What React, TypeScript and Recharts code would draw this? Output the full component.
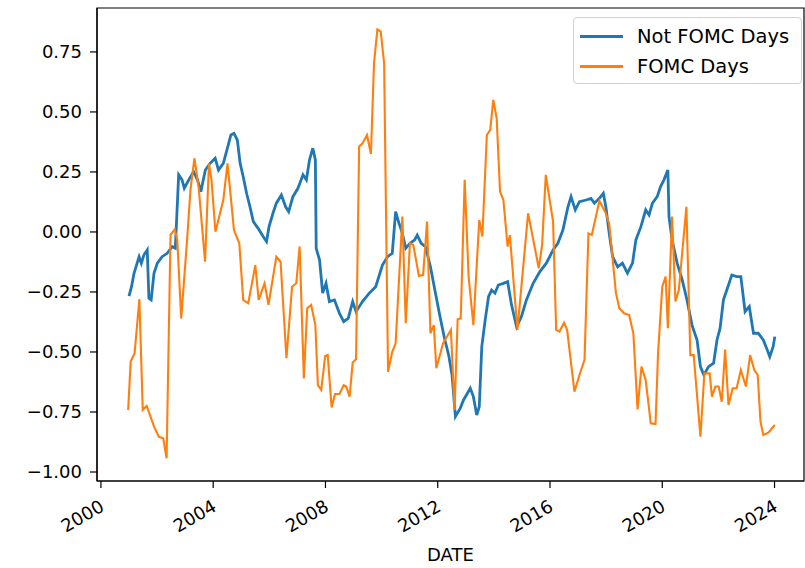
import React from 'react';
import { LineChart, Line, XAxis, YAxis, ReferenceArea, Label } from 'recharts';

const blueDates = [2001.00,2001.09,2001.18,2001.36,2001.44,2001.53,2001.65,2001.71,2001.79,2001.89,2002.01,2002.18,2002.36,2002.54,2002.65,2002.77,2002.89,2002.97,2003.13,2003.30,2003.44,2003.56,2003.72,2003.89,2004.07,2004.19,2004.36,2004.49,2004.63,2004.74,2004.86,2004.96,2005.07,2005.19,2005.31,2005.43,2005.60,2005.78,2005.90,2005.99,2006.13,2006.25,2006.43,2006.58,2006.69,2006.84,2007.02,2007.20,2007.32,2007.43,2007.55,2007.64,2007.67,2007.79,2007.90,2008.02,2008.14,2008.32,2008.50,2008.65,2008.81,2008.97,2009.09,2009.32,2009.56,2009.79,2010.03,2010.21,2010.38,2010.50,2010.62,2010.74,2010.86,2011.01,2011.18,2011.27,2011.41,2011.56,2011.74,2011.92,2012.07,2012.24,2012.39,2012.51,2012.63,2012.80,2012.92,2013.16,2013.27,2013.39,2013.48,2013.57,2013.69,2013.81,2013.92,2014.04,2014.16,2014.34,2014.49,2014.63,2014.81,2014.98,2015.16,2015.40,2015.64,2015.87,2016.11,2016.28,2016.46,2016.64,2016.75,2016.90,2017.05,2017.29,2017.46,2017.58,2017.76,2017.90,2017.99,2018.11,2018.23,2018.41,2018.58,2018.76,2018.94,2019.06,2019.24,2019.41,2019.53,2019.65,2019.82,2019.94,2020.06,2020.20,2020.24,2020.35,2020.53,2020.71,2020.88,2021.06,2021.24,2021.36,2021.48,2021.65,2021.83,2021.95,2022.06,2022.18,2022.30,2022.48,2022.65,2022.80,2022.95,2023.10,2023.25,2023.42,2023.60,2023.72,2023.83,2023.95,2024.01];
const blueValues = [-0.267,-0.228,-0.172,-0.103,-0.13,-0.096,-0.075,-0.276,-0.283,-0.172,-0.13,-0.103,-0.089,-0.061,-0.068,0.238,0.217,0.182,0.217,0.251,0.217,0.168,0.258,0.286,0.307,0.258,0.286,0.342,0.404,0.411,0.383,0.286,0.23,0.161,0.105,0.043,0.015,-0.019,-0.04,0.022,0.078,0.12,0.154,0.105,0.085,0.147,0.182,0.238,0.217,0.3,0.349,0.3,-0.068,-0.117,-0.255,-0.214,-0.29,-0.283,-0.339,-0.374,-0.36,-0.29,-0.332,-0.29,-0.255,-0.228,-0.138,-0.103,-0.089,0.085,0.036,-0.006,-0.068,-0.047,-0.033,-0.013,-0.047,-0.061,-0.145,-0.255,-0.346,-0.443,-0.513,-0.596,-0.769,-0.735,-0.7,-0.651,-0.686,-0.763,-0.728,-0.478,-0.367,-0.27,-0.242,-0.255,-0.221,-0.214,-0.207,-0.304,-0.395,-0.353,-0.283,-0.214,-0.165,-0.13,-0.075,-0.047,0.008,0.105,0.147,0.092,0.126,0.133,0.14,0.12,0.14,0.161,0.105,-0.006,-0.103,-0.145,-0.13,-0.172,-0.13,-0.033,0.022,0.092,0.071,0.12,0.147,0.189,0.217,0.258,0.064,-0.033,-0.13,-0.2,-0.283,-0.388,-0.45,-0.561,-0.596,-0.561,-0.547,-0.45,-0.401,-0.283,-0.242,-0.179,-0.186,-0.186,-0.332,-0.311,-0.422,-0.422,-0.45,-0.485,-0.52,-0.478,-0.436];

const orangeDates = [2000.97,2001.06,2001.20,2001.37,2001.49,2001.63,2001.89,2002.06,2002.22,2002.34,2002.48,2002.63,2002.72,2002.86,2003.07,2003.19,2003.33,2003.48,2003.71,2003.85,2003.94,2004.08,2004.36,2004.51,2004.74,2004.93,2005.07,2005.25,2005.50,2005.62,2005.83,2005.97,2006.25,2006.40,2006.61,2006.81,2006.96,2007.08,2007.23,2007.35,2007.49,2007.64,2007.73,2007.85,2007.99,2008.08,2008.22,2008.34,2008.50,2008.65,2008.74,2008.86,2008.97,2009.09,2009.20,2009.32,2009.48,2009.62,2009.73,2009.85,2009.97,2010.09,2010.23,2010.38,2010.50,2010.74,2010.86,2011.01,2011.13,2011.33,2011.48,2011.62,2011.74,2011.86,2011.95,2012.19,2012.47,2012.60,2012.71,2012.82,2012.96,2013.10,2013.27,2013.48,2013.59,2013.75,2013.87,2013.98,2014.10,2014.22,2014.34,2014.49,2014.57,2014.84,2015.22,2015.60,2015.72,2015.85,2016.11,2016.22,2016.34,2016.50,2016.61,2016.87,2017.05,2017.23,2017.37,2017.49,2017.76,2017.99,2018.11,2018.35,2018.47,2018.64,2018.82,2018.97,2019.12,2019.26,2019.41,2019.59,2019.76,2019.85,2020.00,2020.12,2020.20,2020.35,2020.47,2020.59,2020.86,2021.00,2021.12,2021.36,2021.50,2021.69,2021.77,2021.89,2022.01,2022.12,2022.24,2022.36,2022.51,2022.65,2022.80,2022.98,2023.13,2023.28,2023.40,2023.50,2023.60,2023.78,2024.01];
const orangeValues = [-0.742,-0.54,-0.505,-0.28,-0.742,-0.725,-0.81,-0.853,-0.86,-0.943,-0.0125,0.011,-0.033,-0.36,-0.033,0.175,0.307,0.189,-0.124,0.286,0.217,0.001,0.133,0.286,0.008,-0.047,-0.283,-0.297,-0.138,-0.283,-0.214,-0.304,-0.103,-0.124,-0.526,-0.228,-0.214,-0.061,-0.61,-0.318,-0.304,-0.388,-0.638,-0.658,-0.517,-0.513,-0.731,-0.675,-0.675,-0.638,-0.644,-0.686,-0.544,-0.53,0.356,0.369,0.404,0.325,0.703,0.844,0.835,0.703,-0.582,-0.499,-0.464,0.064,-0.38,-0.047,-0.054,-0.183,-0.179,0.043,-0.422,-0.388,-0.568,-0.464,-0.408,-0.742,-0.364,-0.36,0.217,-0.186,-0.388,0.05,-0.019,0.404,0.425,0.55,0.474,0.168,0.133,-0.061,-0.013,-0.408,0.078,-0.151,-0.054,0.238,0.043,-0.408,-0.415,-0.378,-0.408,-0.665,-0.596,-0.533,-0.006,-0.013,0.13,0.078,0.033,-0.255,-0.318,-0.339,-0.346,-0.422,-0.739,-0.561,-0.617,-0.797,-0.8,-0.506,-0.228,-0.186,-0.401,0.064,-0.29,-0.242,0.105,-0.513,-0.513,-0.853,-0.589,-0.589,-0.686,-0.644,-0.644,-0.707,-0.49,-0.721,-0.651,-0.651,-0.575,-0.644,-0.513,-0.575,-0.596,-0.79,-0.846,-0.836,-0.804];

const xTicks = [2000, 2004, 2008, 2012, 2016, 2020, 2024];
const yTicks = [-1.0, -0.75, -0.5, -0.25, 0, 0.25, 0.5, 0.75];
const seriesNames = ['Not FOMC Days', 'FOMC Days'];
const seriesColors = ['#1f77b4', '#ff7f0e'];

const xDomain = [1999.86, 2025.05];
const yDomain = [-1.0375, 0.933];

const blueData = blueDates.map((d, i) => ({ date: d, value: blueValues[i] }));
const orangeData = orangeDates.map((d, i) => ({ date: d, value: orangeValues[i] }));

const FONT = 'DejaVu Sans';

const LegendBox = () => (
  <div
    style={{
      position: 'absolute',
      left: 573,
      top: 17,
      width: 229,
      height: 67,
      border: '1px solid #d0d0d0',
      borderRadius: 4,
      background: 'rgba(255,255,255,0.8)',
      fontFamily: FONT,
      fontSize: 19.5,
      color: '#000',
      boxSizing: 'border-box',
      paddingTop: 4,
    }}
  >
    {seriesNames.map((n, i) => (
      <div key={n} style={{ display: 'flex', alignItems: 'center', height: 29.5 }}>
        <div style={{ width: 43, height: 2.6, background: seriesColors[i], marginLeft: 6, marginRight: 14 }} />
        <span>{n}</span>
      </div>
    ))}
  </div>
);

export default function App() {
  return (
    <div style={{ position: 'absolute', left: 0, top: 0, width: 805, height: 568, background: '#fff' }}>
      <LineChart width={805} height={568} margin={{ top: 8, right: 1, bottom: 0, left: 0 }}>
        <XAxis
          type="number"
          dataKey="date"
          domain={xDomain}
          ticks={xTicks}
          allowDataOverflow
          height={87}
          tickSize={7}
          tickMargin={11}
          stroke="#000"
          tickLine={{ stroke: '#000', strokeWidth: 1.2 }}
          axisLine={{ stroke: '#000', strokeWidth: 1.2 }}
          tick={{ angle: -30, textAnchor: 'end', fill: '#000', fontSize: 18, fontFamily: FONT, dx: -2 }}
        >
          <Label value="DATE" position="insideBottom" offset={7} style={{ fill: '#000', fontSize: 18, fontFamily: FONT }} />
        </XAxis>
        <YAxis
          type="number"
          dataKey="value"
          domain={yDomain}
          ticks={yTicks}
          allowDataOverflow
          width={97}
          tickSize={7}
          tickMargin={8}
          tickFormatter={(v: number) => (v < 0 ? '\u2212' + Math.abs(v).toFixed(2) : v.toFixed(2))}
          tickLine={{ stroke: '#000', strokeWidth: 1.2 }}
          axisLine={{ stroke: '#000', strokeWidth: 1.2 }}
          tick={{ fill: '#000', fontSize: 18, fontFamily: FONT }}
        />
        <ReferenceArea
          x1={xDomain[0]}
          x2={xDomain[1]}
          y1={yDomain[0]}
          y2={yDomain[1]}
          fill="none"
          stroke="#000"
          strokeWidth={1.2}
          ifOverflow="extendDomain"
        />
        <Line
          data={blueData}
          dataKey="value"
          name={seriesNames[0]}
          stroke={seriesColors[0]}
          strokeWidth={2.8}
          dot={false}
          isAnimationActive={false}
          type="linear"
        />
        <Line
          data={orangeData}
          dataKey="value"
          name={seriesNames[1]}
          stroke={seriesColors[1]}
          strokeWidth={2.1}
          dot={false}
          isAnimationActive={false}
          type="linear"
        />
      </LineChart>
      <LegendBox />
    </div>
  );
}
